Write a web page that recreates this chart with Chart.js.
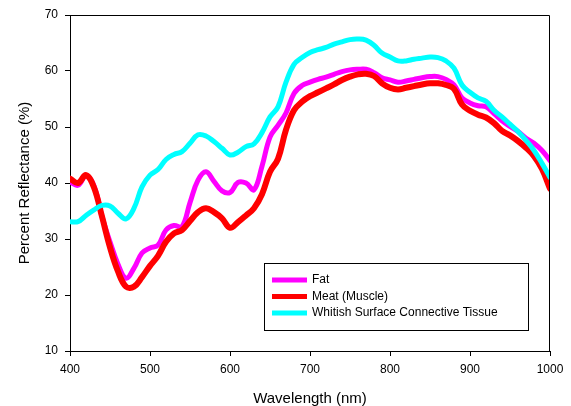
<!DOCTYPE html>
<html>
<head>
<meta charset="utf-8">
<script src="https://cdn.jsdelivr.net/npm/chart.js@4.4.1/dist/chart.umd.min.js"></script>
<style>
  html, body { margin: 0; padding: 0; background: #fff; }
  #wrap { width: 571px; height: 406px; }
</style>
</head>
<body>
<div id="wrap"><canvas id="spectra" width="571" height="406"></canvas></div>
<script>
// wavelengths every 10 nm, 400..1000
var wavelengths = [];
for (var w = 400; w <= 1000; w += 10) wavelengths.push(w);

var seriesNames = ["Fat", "Meat (Muscle)", "Whitish Surface Connective Tissue"];

var fat = [
    40.2, 39.6, 41.3, 39.5, 34.0, 29.5, 25.5, 23.0, 24.8, 27.5,
    28.4, 28.9, 31.6, 32.4, 32.2, 36.5, 40.5, 42.0, 40.3, 38.6,
    38.3, 40.1, 40.0, 38.8, 43.0, 48.2, 50.3, 52.5, 56.0, 57.4,
    58.0, 58.5, 58.9, 59.4, 59.9, 60.2, 60.3, 60.3, 59.7, 58.8,
    58.4, 58.0, 58.2, 58.5, 58.8, 59.0, 59.0, 58.5, 57.5, 55.2,
    54.3, 53.8, 53.6, 52.4, 51.1, 50.1, 49.2, 48.0, 47.1, 45.8,
    44.0
];

var meat = [
    40.8, 40.0, 41.4, 39.2, 34.0, 28.5, 24.2, 21.5, 21.5, 23.2,
    25.2, 27.0, 29.5, 31.0, 31.6, 33.2, 34.8, 35.5, 34.8, 33.7,
    32.0, 33.0, 34.2, 35.5, 38.0, 42.0, 44.3, 49.5, 53.0, 54.5,
    55.5, 56.2, 56.9, 57.6, 58.4, 59.0, 59.4, 59.5, 59.1, 57.8,
    57.0, 56.7, 57.0, 57.3, 57.6, 57.8, 57.8, 57.5, 56.8, 54.0,
    52.9, 52.2, 51.7, 50.7, 49.3, 48.5, 47.5, 46.3, 44.8, 42.5,
    39.0
];

var tissue = [
    33.1, 33.1, 34.2, 35.2, 36.0, 35.9, 34.6, 33.6, 35.5, 39.3,
    41.4, 42.4, 44.2, 45.1, 45.6, 47.1, 48.6, 48.4, 47.4, 46.2,
    45.0, 45.5, 46.5, 47.0, 49.0, 51.8, 53.6, 58.0, 61.2, 62.4,
    63.3, 63.8, 64.2, 64.8, 65.2, 65.6, 65.7, 65.5, 64.6, 63.2,
    62.5, 61.8, 61.8, 62.1, 62.3, 62.5, 62.4, 61.8, 60.5, 57.5,
    56.2, 55.2, 54.6, 53.0, 51.8, 50.5, 49.2, 47.6, 45.8, 43.5,
    41.0
];

var colors = ["#ff00ff", "#ff0000", "#00ffff"];
var FONT = "'Liberation Sans', Arial, sans-serif";

function toPoints(ys) {
    return wavelengths.map(function(x, i) { return { x: x, y: ys[i] }; });
}

// top and right edges of the plot frame
var frame = {
    id: "frame",
    afterDraw: function(chart) {
        var a = chart.chartArea, c = chart.ctx;
        c.save();
        c.strokeStyle = "#000";
        c.lineWidth = 1;
        c.beginPath();
        c.moveTo(a.left, a.top + 0.5);
        c.lineTo(a.right - 0.5, a.top + 0.5);
        c.lineTo(a.right - 0.5, a.bottom);
        c.stroke();
        c.restore();
    }
};

// legend box inside the plot
var boxLegend = {
    id: "boxLegend",
    afterDraw: function(chart) {
        var c = chart.ctx;
        var x0 = 264.5, y0 = 263.5, bw = 264, bh = 67;
        c.save();
        c.fillStyle = "#fff";
        c.fillRect(x0, y0, bw, bh);
        c.strokeStyle = "#000";
        c.lineWidth = 1;
        c.strokeRect(x0, y0, bw, bh);
        c.font = "12px " + FONT;
        c.textBaseline = "middle";
        c.fillStyle = "#000";
        chart.data.datasets.forEach(function(ds, i) {
            var y = 280 + i * 16.5;
            c.strokeStyle = ds.borderColor;
            c.lineWidth = 5;
            c.beginPath();
            c.moveTo(272, y);
            c.lineTo(307, y);
            c.stroke();
            c.fillText(ds.label, 312, y);
        });
        c.restore();
    }
};

var ctx = document.getElementById("spectra").getContext("2d");
var chart = new Chart(ctx, {
    type: "line",
    data: {
        datasets: [
            { label: seriesNames[0], data: toPoints(fat), borderColor: colors[0], borderWidth: 5, order: 3 },
            { label: seriesNames[1], data: toPoints(meat), borderColor: colors[1], borderWidth: 6, order: 2 },
            { label: seriesNames[2], data: toPoints(tissue), borderColor: colors[2], borderWidth: 5, order: 1 }
        ]
    },
    options: {
        responsive: false,
        animation: false,
        layout: { padding: { left: 0, right: 21, top: 15, bottom: 0 } },
        elements: {
            point: { radius: 0 },
            line: { tension: 0.4, fill: false, borderCapStyle: "round", borderJoinStyle: "round" }
        },
        plugins: {
            legend: { display: false },
            tooltip: { enabled: false }
        },
        scales: {
            x: {
                type: "linear",
                min: 400,
                max: 1000,
                afterFit: function(s) { s.height = 55; },
                ticks: {
                    stepSize: 100, color: "#000", padding: 6, maxRotation: 0,
                    font: { family: FONT, size: 12 },
                    callback: function(v) { return String(v); }
                },
                grid: { drawOnChartArea: false, drawTicks: true, tickLength: 5, color: "#000" },
                border: { color: "#000", width: 1 },
                title: { display: true, text: "Wavelength (nm)", color: "#000", padding: { top: 0, bottom: 0 }, font: { family: FONT, size: 15, lineHeight: 1 } }
            },
            y: {
                min: 10,
                max: 70,
                afterFit: function(s) { s.width = 70; },
                ticks: { stepSize: 10, color: "#000", padding: 7, font: { family: FONT, size: 12 } },
                grid: { drawOnChartArea: false, drawTicks: true, tickLength: 5, color: "#000" },
                border: { color: "#000", width: 1 },
                title: { display: true, text: "Percent Reflectance (%)", color: "#000", padding: { top: 17, bottom: 0 }, font: { family: FONT, size: 15, lineHeight: 1 } }
            }
        }
    },
    plugins: [frame, boxLegend]
});
</script>
</body>
</html>
